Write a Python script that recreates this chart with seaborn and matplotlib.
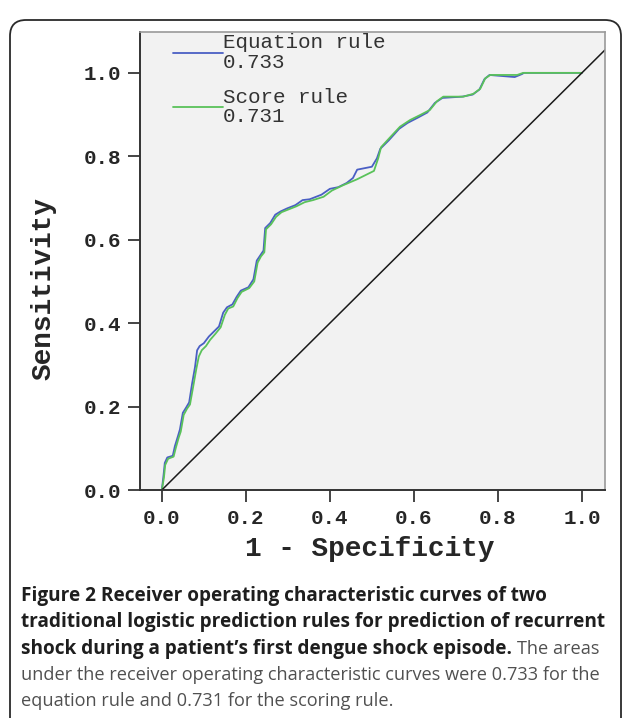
import numpy as np
import pandas as pd
import matplotlib
matplotlib.use("Agg")
import matplotlib.pyplot as plt
from matplotlib.patches import FancyBboxPatch
from matplotlib.transforms import IdentityTransform
import seaborn as sns

# 
########################################################################
# Dados (1 - especificidade, sensibilidade)
########################################################################
#
eq_fpr = [0.0, 0.004, 0.007, 0.013, 0.026, 0.031, 0.038, 0.043, 0.050, 0.058,
          0.065, 0.072, 0.079, 0.084, 0.090, 0.100, 0.112, 0.124, 0.136, 0.146,
          0.155, 0.168, 0.178, 0.188, 0.206, 0.218, 0.226, 0.234, 0.242, 0.246,
          0.258, 0.270, 0.283, 0.298, 0.318, 0.335, 0.352, 0.380, 0.400, 0.420,
          0.440, 0.455, 0.465, 0.500, 0.512, 0.520, 0.540, 0.565, 0.585, 0.610,
          0.632, 0.650, 0.668, 0.715, 0.740, 0.756, 0.768, 0.780, 0.840, 0.857,
          0.862, 1.0]
eq_tpr = [0.0, 0.035, 0.065, 0.078, 0.082, 0.105, 0.128, 0.145, 0.185, 0.198,
          0.210, 0.255, 0.295, 0.335, 0.345, 0.352, 0.368, 0.380, 0.392, 0.425,
          0.438, 0.445, 0.463, 0.478, 0.486, 0.505, 0.550, 0.562, 0.574, 0.628,
          0.640, 0.660, 0.668, 0.675, 0.683, 0.695, 0.697, 0.708, 0.722, 0.726,
          0.736, 0.748, 0.768, 0.775, 0.795, 0.818, 0.838, 0.866, 0.880, 0.893,
          0.905, 0.928, 0.940, 0.943, 0.948, 0.960, 0.985, 0.995, 0.990, 0.997,
          1.0, 1.0]

sc_fpr = [0.0, 0.005, 0.008, 0.015, 0.028, 0.033, 0.040, 0.045, 0.052, 0.060,
          0.067, 0.075, 0.082, 0.088, 0.095, 0.105, 0.115, 0.128, 0.140, 0.150,
          0.158, 0.170, 0.180, 0.190, 0.208, 0.220, 0.228, 0.236, 0.244, 0.248,
          0.260, 0.272, 0.285, 0.300, 0.320, 0.340, 0.360, 0.385, 0.405, 0.430,
          0.465, 0.505, 0.515, 0.522, 0.543, 0.567, 0.591, 0.615, 0.638, 0.655,
          0.670, 0.718, 0.742, 0.758, 0.770, 0.782, 0.846, 0.860, 1.0]
sc_tpr = [0.0, 0.030, 0.060, 0.075, 0.080, 0.100, 0.125, 0.140, 0.180, 0.195,
          0.205, 0.250, 0.290, 0.320, 0.335, 0.345, 0.360, 0.375, 0.390, 0.420,
          0.435, 0.440, 0.460, 0.475, 0.484, 0.500, 0.545, 0.560, 0.570, 0.625,
          0.637, 0.655, 0.666, 0.672, 0.680, 0.690, 0.695, 0.703, 0.718, 0.730,
          0.745, 0.765, 0.795, 0.822, 0.845, 0.871, 0.887, 0.899, 0.911, 0.932,
          0.943, 0.943, 0.950, 0.962, 0.987, 0.995, 0.995, 1.0, 1.0]

regras = ["Equation rule", "Score rule"]
areas = ["0.733", "0.731"]
cores = ["#4a5fc4", "#5ac25a"]
ticks = [0.0, 0.2, 0.4, 0.6, 0.8, 1.0]

legenda_linhas = [
    ("Figure 2 Receiver operating characteristic curves of two", None),
    ("traditional logistic prediction rules for prediction of recurrent", None),
    ("shock during a patient\u2019s first dengue shock episode.", "The areas"),
    (None, "under the receiver operating characteristic curves were 0.733 for the"),
    (None, "equation rule and 0.731 for the scoring rule."),
]

df = pd.concat([
    pd.DataFrame({"fpr": eq_fpr, "tpr": eq_tpr, "regra": regras[0]}),
    pd.DataFrame({"fpr": sc_fpr, "tpr": sc_tpr, "regra": regras[1]}),
], ignore_index=True)

# 
########################################################################
# Figura
########################################################################
#
sns.set_theme(style="white")
plt.rcParams["font.family"] = ["Liberation Mono", "DejaVu Sans Mono"]

W, H = 627, 718
fig = plt.figure(figsize=(W / 100, H / 100), dpi=100)
fig.patch.set_facecolor("white")

# moldura arredondada
moldura = FancyBboxPatch((10, -30), 611, 728, boxstyle="round,pad=0,rounding_size=16",
                         transform=IdentityTransform(), facecolor="none",
                         edgecolor="#2a2a2a", linewidth=1.3)
fig.patches.append(moldura)

ax = fig.add_axes([140 / W, (H - 490) / H, 465 / W, 458 / H])
ax.set_facecolor("#f2f2f2")

sns.lineplot(data=df, x="fpr", y="tpr", hue="regra", hue_order=regras,
             palette=cores, sort=False, estimator=None, linewidth=1.3,
             ax=ax, legend=False)
ax.axline((0, 0), slope=1, color="#1a1a1a", linewidth=1.1)

ax.set_xlim(-0.052, 1.055)
ax.set_ylim(0.0, 1.098)
ax.set_xticks(ticks)
ax.set_yticks(ticks)
ax.set_xticklabels([f"{t:.1f}" for t in ticks])
ax.set_yticklabels([f"{t:.1f}" for t in ticks])
ax.tick_params(axis="both", direction="out", length=8.5, width=1.4, color="#444444",
               labelsize=15, pad=5, left=True, bottom=True)
for lab in ax.get_xticklabels() + ax.get_yticklabels():
    lab.set_fontweight("bold")

for lado in ["left", "bottom"]:
    ax.spines[lado].set_color("#333333")
    ax.spines[lado].set_linewidth(1.4)
for lado in ["top", "right"]:
    ax.spines[lado].set_color("#9a9a9a")
    ax.spines[lado].set_linewidth(1.2)

ax.set_xlabel("1 - Specificity", fontsize=20, fontweight="bold")
ax.set_ylabel("Sensitivity", fontsize=20, fontweight="bold")
ax.xaxis.set_label_coords(0.495, -0.10)
ax.yaxis.set_label_coords(-0.18, 0.44)

# legenda
linhas = ax.get_lines()[:2]
leg = ax.legend(linhas, [f"{r}\n{a}" for r, a in zip(regras, areas)],
                loc="upper left", bbox_to_anchor=(0.071, 0.997), frameon=False,
                fontsize=15, handlelength=2.4, handletextpad=0.0,
                borderpad=0, borderaxespad=0, labelspacing=0.75)
for t in leg.get_texts():
    t.set_linespacing(1.05)
    t.set_color("#333333")

# 
########################################################################
# Legenda da figura
########################################################################
#
fig.canvas.draw()
renderer = fig.canvas.get_renderer()
bases = [601, 627, 654, 680, 706]
for (negrito, normal), yb in zip(legenda_linhas, bases):
    x0 = 21
    if negrito:
        t = fig.text(x0 / W, 1 - yb / H, negrito, fontsize=13.7, fontweight="bold",
                     family="Open Sans", color="#1e1e1e", va="baseline", ha="left")
        bb = t.get_window_extent(renderer)
        x0 = bb.x1 + 5
    if normal:
        fig.text(x0 / W, 1 - yb / H, normal, fontsize=13.1, family="Open Sans",
                 color="#505050", va="baseline", ha="left")

fig.savefig("out.png", dpi=100)
